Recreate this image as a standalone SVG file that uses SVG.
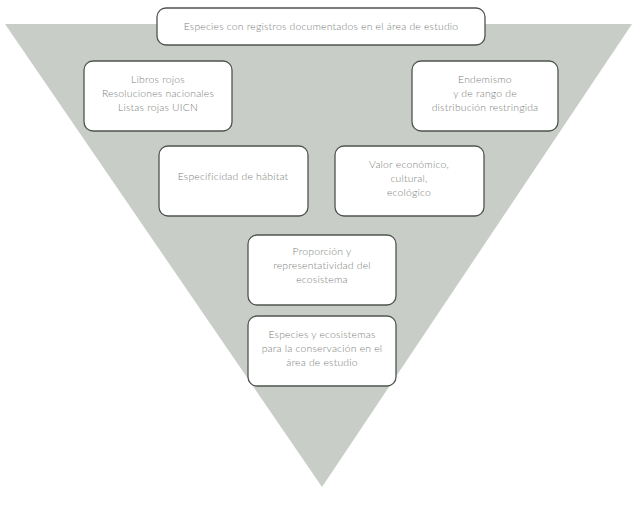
<svg xmlns="http://www.w3.org/2000/svg" width="633" height="516" viewBox="0 0 633 516">
<style>
.box{fill:#ffffff;stroke:#4f544f;stroke-width:1.3}
.t{font-family:Lato,"Open Sans","Liberation Sans",sans-serif;font-weight:300;font-size:10.4px;letter-spacing:0.2px;fill:#7a7e7a;text-anchor:middle}
</style>
<rect width="633" height="516" fill="#ffffff"/>
<polygon points="5,24 632,24 322,487" fill="#c9cdc8"/>
<g id="connectors"></g>
<g id="n-top">
<rect class="box" x="157" y="8" width="328" height="37" rx="9"/>
<text class="t" x="321" y="30">Especies con registros documentados en el área de estudio</text>
</g>
<g id="n-libros">
<rect class="box" x="84" y="61" width="148" height="70" rx="9"/>
<text class="t" x="158" y="83">Libros rojos</text>
<text class="t" x="158" y="97">Resoluciones nacionales</text>
<text class="t" x="158" y="111">Listas rojas UICN</text>
</g>
<g id="n-endemismo">
<rect class="box" x="412" y="61" width="146" height="70" rx="9"/>
<text class="t" x="485" y="83">Endemismo</text>
<text class="t" x="485" y="97">y de rango de</text>
<text class="t" x="485" y="111">distribución restringida</text>
</g>
<g id="n-especificidad">
<rect class="box" x="159" y="146" width="149" height="70" rx="9"/>
<text class="t" x="233" y="180">Especificidad de hábitat</text>
</g>
<g id="n-valor">
<rect class="box" x="335" y="146" width="149" height="70" rx="9"/>
<text class="t" x="409" y="168">Valor económico,</text>
<text class="t" x="409" y="182">cultural,</text>
<text class="t" x="409" y="196">ecológico</text>
</g>
<g id="n-proporcion">
<rect class="box" x="248" y="235" width="148" height="70" rx="9"/>
<text class="t" x="322" y="255">Proporción y</text>
<text class="t" x="322" y="269">representatividad del</text>
<text class="t" x="322" y="283">ecosistema</text>
</g>
<g id="n-especies">
<rect class="box" x="248" y="316" width="148" height="70" rx="9"/>
<text class="t" x="322" y="338">Especies y ecosistemas</text>
<text class="t" x="322" y="352">para la conservación en el</text>
<text class="t" x="322" y="366">área de estudio</text>
</g>
</svg>
